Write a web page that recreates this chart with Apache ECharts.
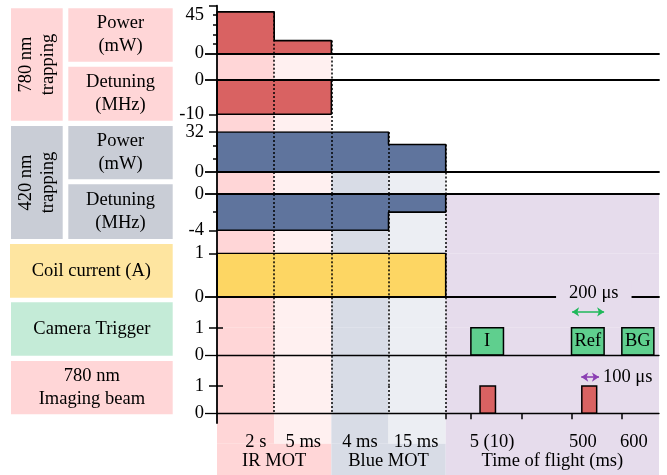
<!DOCTYPE html>
<html><head><meta charset="utf-8">
<script src="https://cdn.jsdelivr.net/npm/echarts@6/dist/echarts.min.js"></script>
<style>html,body{margin:0;padding:0;background:#fff}#c{width:667px;height:475px}</style>
</head><body><div id="c"></div>
<script>
// ---------------- data ----------------
const phaseEdges = [0, 1, 2, 3, 4];           // schematic slots: 2 s | 5 ms | 4 ms | 15 ms
const tofEnd = 7.73;                          // end of time-of-flight slot
const phaseLabels = ['2 s', '5 ms', '4 ms', '15 ms'];
const phaseLabelPos = [0.68, 1.51, 2.50, 3.48];
const stageLabels = ['IR MOT', 'Blue MOT', 'Time of flight (ms)'];
const tofTickPos = [4.44, 5.33, 6.20, 7.08];
const tofLabels = ['5 (10)', '500', '600'];
const tofLabelPos = [4.81, 6.40, 7.29];

const power780 = [49, 15];           // mW
const detuning780 = [-10, -10];      // MHz
const power420 = [32, 32, 32, 22];   // mW
const detuning420 = [-4, -4, -4, -2];// MHz
const coilCurrent = [1, 1, 1, 1];    // A

const cameraNames = ['I', 'Ref', 'BG'];
const cameraStart = [4.44, 6.20, 7.08];
const cameraEnd   = [5.01, 6.77, 7.64];
const cameraLevel = [1, 1, 1];
const imagingStart = [4.60, 6.38];
const imagingEnd   = [4.87, 6.64];
const imagingLevel = [1, 1];

const refArrow = [6.21, 6.77];    const refArrowLevel = -0.35;   const refArrowText = '200 μs';
const pulseArrow = [6.37, 6.68];  const pulseArrowLevel = -0.81; const pulseArrowText = '100 μs';

const sideLabels = ['780 nm\ntrapping', 'Power\n(mW)', 'Detuning\n(MHz)', '420 nm\ntrapping', 'Power\n(mW)',
  'Detuning\n(MHz)', 'Coil current (A)', 'Camera Trigger', '780 nm\nImaging beam'];

// ---------------- layout / style ----------------
const FONT = "'Liberation Serif','DejaVu Serif','Times New Roman',serif";
const FS = 18.5;
const colColors = ['#ffd6d7', '#fff0f0', '#d8dce6', '#eceef3'];
const tofColor = '#e6dcec';
const sideLayout = [
  {x: 11, y: 8.3, w: 51.7, h: 112.4, fill: '#ffd6d7', rot: true},
  {x: 68.3, y: 8.3, w: 104.4, h: 53.4, fill: '#ffd6d7'},
  {x: 68.3, y: 66.7, w: 104.4, h: 54, fill: '#ffd6d7'},
  {x: 11, y: 126, w: 51.7, h: 113, fill: '#c9cdd6', rot: true},
  {x: 68.3, y: 126, w: 104.4, h: 53.3, fill: '#c9cdd6'},
  {x: 68.3, y: 184.3, w: 104.4, h: 54.7, fill: '#c9cdd6'},
  {x: 10, y: 244, w: 162.7, h: 53.7, fill: '#fee5a0'},
  {x: 11, y: 302.3, w: 161.7, h: 53.4, fill: '#c4ebd7'},
  {x: 11, y: 361, w: 161.7, h: 53.3, fill: '#ffd6d7'}
];
const rows = [
  {top: 5.7, bottom: 80, min: -31.55, max: 56.25, labels: [0, 45], major: [56.25], minor: [11.25, 22.5, 33.75, 45],
   wave: power780, color: '#d96262', shade: [{cols: [0, 1], below: true}]},
  {top: 80, bottom: 132, min: -15.16, max: 0, labels: [0, -10], major: [-10],
   wave: detuning780, color: '#d96262', shade: [{cols: [0, 1]}]},
  {top: 132, bottom: 194, min: -17.6, max: 32, labels: [0, 32], major: [32], minor: [10.67, 21.33],
   wave: power420, color: '#5f749d', shade: [{cols: [0, 1]}, {cols: [2, 3], below: true}]},
  {top: 194, bottom: 253.3, min: -6.53, max: 0, labels: [0, -4], major: [-4], minor: [-2],
   wave: detuning420, color: '#5f749d', shade: [{cols: [0, 1, 2, 3], tof: true}]},
  {top: 253.3, bottom: 327.7, min: -0.714, max: 1, labels: [0, 1], major: [1],
   wave: coilCurrent, color: '#fdd663', shade: [{cols: [0, 1, 2, 3], tof: true}]},
  {top: 327.7, bottom: 386, min: -1.136, max: 1, labels: [0, 1], major: [1], cross: true,
   shade: [{cols: [0, 1, 2, 3], tof: true}]},
  {top: 386, bottom: 423, min: -0.355, max: 1, labels: [0, 1], major: [1], cross: true, dotToZero: true,
   shade: [{cols: [0, 1, 2, 3], tof: true}]}
];

const xLabelPos = phaseLabelPos.concat(tofLabelPos);
const xLabelText = phaseLabels.concat(tofLabels);

function stepData(values) {
  const e = phaseEdges;
  const pts = [[e[0], 0]];
  values.forEach((v, i) => pts.push([e[i], v]));
  pts.push([e[values.length], 0]);
  return pts;
}

const GL = 217, GW = 442;
const grids = [], xAxes = [], yAxes = [], series = [];
const tickStyle = {color: '#000', width: 1.5};

rows.forEach((r, i) => {
  grids.push({left: GL, width: GW, top: r.top, height: r.bottom - r.top, containLabel: false, outerBoundsMode: 'none'});
  const isLast = i === rows.length - 1;
  const yi = yAxes.length;
  const zeroW = i >= 5 ? 1.3 : 1.8;
  xAxes.push({
    type: 'value', gridIndex: i, min: 0, max: tofEnd, z: 10,
    axisLine: {show: true, onZero: true, onZeroAxisIndex: yi, lineStyle: {color: '#000', width: zeroW}},
    axisTick: isLast ? {show: true, customValues: [phaseEdges[4]].concat(tofTickPos), length: 6, lineStyle: tickStyle} : {show: false},
    axisLabel: isLast ? {show: true, customValues: xLabelPos, margin: 10, color: '#000', fontSize: FS, fontFamily: FONT,
      formatter: v => { const k = xLabelPos.indexOf(v); return k >= 0 ? xLabelText[k] : ''; }} : {show: false},
    splitLine: {show: false}
  });
  // main axis: line, labels, major ticks
  yAxes.push({
    type: 'value', gridIndex: i, min: r.min, max: r.max, position: 'left', offset: 0, z: 10,
    axisLine: {show: true, onZero: false, lineStyle: {color: '#000', width: 1.8}},
    axisTick: {show: true, customValues: r.major, length: 8, lineStyle: tickStyle},
    axisLabel: {show: true, customValues: r.labels, margin: 13, color: '#000', fontSize: FS, fontFamily: FONT, formatter: v => String(v)},
    splitLine: {show: false}
  });
  // long zero tick
  yAxes.push({
    type: 'value', gridIndex: i, min: r.min, max: r.max, position: 'left', offset: 0, z: 10,
    axisLine: {show: false, onZero: false},
    axisTick: {show: true, customValues: [0], length: 12, lineStyle: {color: '#000', width: zeroW}},
    axisLabel: {show: false}, splitLine: {show: false}
  });
  // minor ticks / ticks crossing the axis
  if (r.minor || r.cross) {
    yAxes.push({
      type: 'value', gridIndex: i, min: r.min, max: r.max, position: 'left', offset: 0, z: 10,
      axisLine: {show: false, onZero: false},
      axisTick: {show: true, inside: !!r.cross, customValues: r.minor || r.major, length: r.cross ? 6 : 4, lineStyle: tickStyle},
      axisLabel: {show: false}, splitLine: {show: false}
    });
  }

  // shading
  const areas = [];
  r.shade.forEach(s => {
    s.cols.forEach(c => {
      areas.push([{xAxis: phaseEdges[c], yAxis: r.min, itemStyle: {color: colColors[c]}},
                  {xAxis: phaseEdges[c + 1], yAxis: s.below ? 0 : r.max}]);
    });
    if (s.tof) areas.push([{xAxis: phaseEdges[4], yAxis: r.min, itemStyle: {color: tofColor}}, {xAxis: tofEnd, yAxis: r.max}]);
  });
  series.push({type: 'line', xAxisIndex: i, yAxisIndex: yi, data: [], z: 1, silent: true,
    markArea: {silent: true, z: 1, label: {show: false}, data: areas}});

  // waveform
  if (r.wave) {
    series.push({type: 'line', xAxisIndex: i, yAxisIndex: yi, data: stepData(r.wave), step: 'end', z: 3,
      symbol: 'none', silent: true, lineStyle: {color: '#000', width: 1.6},
      areaStyle: {color: r.color, opacity: 1}});
  }

  // dotted phase boundaries
  const segs = [];
  for (let k = 1; k <= 4; k++) {
    let top = r.max;
    if (r.wave) {
      const a = r.wave[k - 1] || 0, b = r.wave[k] || 0;
      if (a === 0 && b === 0) continue;
      const m = Math.max(a, b, 0);
      top = m > 0 ? m : r.max;
    }
    segs.push([{coord: [phaseEdges[k], top]}, {coord: [phaseEdges[k], r.dotToZero ? 0 : r.min]}]);
  }
  series.push({type: 'line', xAxisIndex: i, yAxisIndex: yi, data: [], z: 4, silent: true,
    markLine: {silent: true, symbol: ['none', 'none'], label: {show: false},
      lineStyle: {color: '#000', type: [2, 2], width: 1.5}, data: segs}});
  r.yi = yi;
});

// camera trigger boxes & imaging pulses
function boxSeries(rowIdx, starts, ends, levels, fill, names) {
  return {
    type: 'custom', xAxisIndex: rowIdx, yAxisIndex: rows[rowIdx].yi, z: 3, silent: true,
    data: starts.map((s, i) => [s, ends[i], levels[i]]),
    encode: {x: [0, 1], y: 2},
    renderItem: (params, api) => {
      const p0 = api.coord([api.value(0), api.value(2)]);
      const p1 = api.coord([api.value(1), 0]);
      const el = {type: 'rect', shape: {x: p0[0], y: p0[1], width: p1[0] - p0[0], height: p1[1] - p0[1]},
        style: {fill: fill, stroke: '#000', lineWidth: 1.5}};
      if (names) {
        el.textContent = {style: {text: names[params.dataIndex], fontSize: FS, fontFamily: FONT, fill: '#000'}};
        el.textConfig = {position: 'inside'};
      }
      return el;
    }
  };
}
series.push(boxSeries(5, cameraStart, cameraEnd, cameraLevel, '#5fcf8e', cameraNames));
series.push(boxSeries(6, imagingStart, imagingEnd, imagingLevel, '#d96262', null));

// arrows and width annotations
series.push({type: 'line', xAxisIndex: 4, yAxisIndex: rows[4].yi, data: [], z: 20, silent: true,
  markLine: {silent: true, z: 20, symbol: ['arrow', 'arrow'], symbolSize: [7, 7], label: {show: false},
    lineStyle: {color: '#1fb85a', type: 'solid', width: 1.6},
    data: [[{coord: [refArrow[0], refArrowLevel]}, {coord: [refArrow[1], refArrowLevel]}]]},
  markPoint: {silent: true, z: 20, symbol: 'rect', symbolSize: 0,
    label: {show: true, position: 'inside', formatter: refArrowText, color: '#000', fontSize: FS, fontFamily: FONT,
      backgroundColor: tofColor, padding: [3, 13]},
    data: [{coord: [(refArrow[0] + refArrow[1]) / 2 + 0.1, 0.08]}]}});
series.push({type: 'line', xAxisIndex: 5, yAxisIndex: rows[5].yi, data: [], z: 20, silent: true,
  markLine: {silent: true, z: 20, symbol: ['arrow', 'arrow'], symbolSize: [7, 7],
    label: {show: true, position: 'end', formatter: pulseArrowText, color: '#000', fontSize: FS, fontFamily: FONT, distance: 4},
    lineStyle: {color: '#8b3fb3', type: 'solid', width: 1.6},
    data: [[{coord: [pulseArrow[0], pulseArrowLevel]}, {coord: [pulseArrow[1], pulseArrowLevel]}]]}});

// bottom band with stage labels
const bandIdx = rows.length;
grids.push({left: GL, width: GW, top: 423, height: 52, containLabel: false, outerBoundsMode: 'none'});
const stagePos = [(phaseEdges[0] + phaseEdges[2]) / 2, (phaseEdges[2] + phaseEdges[4]) / 2, (phaseEdges[4] + tofEnd) / 2];
xAxes.push({type: 'value', gridIndex: bandIdx, min: 0, max: tofEnd, position: 'bottom', z: 30,
  axisLine: {show: false, onZero: false}, axisTick: {show: false}, splitLine: {show: false},
  axisLabel: {show: true, inside: true, margin: 4, customValues: stagePos, color: '#000', fontSize: FS, fontFamily: FONT,
    formatter: v => { const k = stagePos.indexOf(v); return k >= 0 ? stageLabels[k] : ''; }}});
const bandY = yAxes.length;
yAxes.push({type: 'value', gridIndex: bandIdx, min: 0, max: 1, show: false});
const bandSplit = 0.6;
const bandAreas = [];
for (let c = 0; c < 4; c++) {
  bandAreas.push([{xAxis: phaseEdges[c], yAxis: bandSplit, itemStyle: {color: colColors[c]}}, {xAxis: phaseEdges[c + 1], yAxis: 1}]);
}
bandAreas.push([{xAxis: phaseEdges[0], yAxis: 0, itemStyle: {color: colColors[0]}}, {xAxis: phaseEdges[2], yAxis: bandSplit}]);
bandAreas.push([{xAxis: phaseEdges[2], yAxis: 0, itemStyle: {color: colColors[2]}}, {xAxis: phaseEdges[4], yAxis: bandSplit}]);
bandAreas.push([{xAxis: phaseEdges[4], yAxis: 0, itemStyle: {color: tofColor}}, {xAxis: tofEnd, yAxis: 1}]);
series.push({type: 'line', xAxisIndex: bandIdx, yAxisIndex: bandY, data: [], z: 1, silent: true,
  markArea: {silent: true, z: 1, label: {show: false}, data: bandAreas}});

// left label boxes
const graphics = [];
sideLayout.forEach((b, i) => {
  graphics.push({type: 'rect', shape: {x: b.x, y: b.y, width: b.w, height: b.h}, style: {fill: b.fill}, silent: true});
  graphics.push({type: 'text', x: b.x + b.w / 2, y: b.y + b.h / 2, rotation: b.rot ? Math.PI / 2 : 0, silent: true,
    style: {text: sideLabels[i], fontSize: FS, fontFamily: FONT, fill: '#000', align: 'center', verticalAlign: 'middle',
      lineHeight: b.rot ? 22 : 23}});
});

const chart = echarts.init(document.getElementById('c'), null, {renderer: 'canvas'});
chart.setOption({
  animation: false,
  backgroundColor: '#fff',
  grid: grids, xAxis: xAxes, yAxis: yAxes, series: series,
  graphic: {elements: graphics}
});
</script></body></html>
